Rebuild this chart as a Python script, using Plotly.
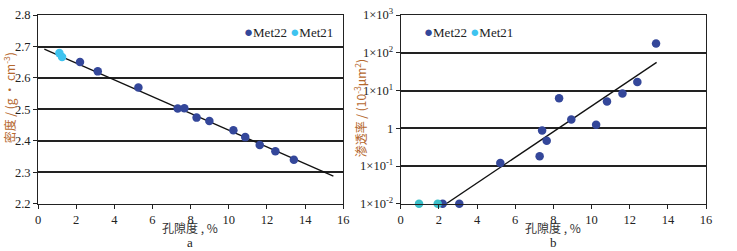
import plotly.graph_objects as go

# ---- data: panel a (density vs porosity) ----
a_met22_x = [2.2, 3.13, 5.26, 7.32, 7.67, 8.31, 8.98, 10.24, 10.86, 11.62, 12.44, 13.41]
a_met22_y = [2.651, 2.621, 2.570, 2.503, 2.504, 2.474, 2.463, 2.434, 2.412, 2.387, 2.367, 2.340]
a_met21_x = [1.12, 1.26]
a_met21_y = [2.679, 2.667]
a_fit_x = [0.33, 15.48]
a_fit_y = [2.692, 2.288]

# ---- data: panel b (permeability vs porosity) ----
b_met22_x = [2.2, 3.07, 5.22, 7.28, 7.41, 7.65, 8.30, 8.94, 10.24, 10.81, 11.62, 12.40, 13.38]
b_met22_y = [0.01, 0.01, 0.12, 0.183, 0.877, 0.47, 6.3, 1.72, 1.24, 5.15, 8.4, 16.8, 177]
b_met21_x = [0.96, 1.94]
b_met21_y = [0.01, 0.01]
b_fit_x = [2.38, 13.41]
b_fit_y = [0.01, 55.7]

x_ticks = [0, 2, 4, 6, 8, 10, 12, 14, 16]
a_y_ticks = [2.2, 2.3, 2.4, 2.5, 2.6, 2.7, 2.8]
b_y_ticks = [0.01, 0.1, 1, 10, 100, 1000]
b_y_ticktext = ["1×10<sup>-2</sup>", "1×10<sup>-1</sup>", "1", "1×10<sup>1</sup>",
                "1×10<sup>2</sup>", "1×10<sup>3</sup>"]

C22 = "#34479a"
C21 = "#3ec3ef"
TITLE_C = "#b5682e"
SERIF = "Liberation Serif, Times New Roman, serif"
CJK = "Noto Sans CJK SC"

fig = go.Figure()
mk = dict(size=8.5)
fig.add_trace(go.Scatter(x=a_fit_x, y=a_fit_y, mode="lines", line=dict(color="#111", width=1.3),
                         xaxis="x", yaxis="y", showlegend=False))
fig.add_trace(go.Scatter(x=a_met22_x, y=a_met22_y, mode="markers", marker=dict(color=C22, **mk),
                         xaxis="x", yaxis="y", showlegend=False, name="Met22"))
fig.add_trace(go.Scatter(x=a_met21_x, y=a_met21_y, mode="markers", marker=dict(color=C21, **mk),
                         xaxis="x", yaxis="y", showlegend=False, name="Met21"))
fig.add_trace(go.Scatter(x=b_fit_x, y=b_fit_y, mode="lines", line=dict(color="#111", width=1.3),
                         xaxis="x2", yaxis="y2", showlegend=False))
fig.add_trace(go.Scatter(x=b_met22_x, y=b_met22_y, mode="markers", marker=dict(color=C22, **mk),
                         xaxis="x2", yaxis="y2", showlegend=False, name="Met22", cliponaxis=False))
fig.add_trace(go.Scatter(x=b_met21_x, y=b_met21_y, mode="markers", marker=dict(color="#3bbfc9", **mk),
                         xaxis="x2", yaxis="y2", showlegend=False, name="Met21", cliponaxis=False))

ydom = [0.188, 0.940]
axcommon = dict(showline=True, linecolor="#222", linewidth=1, mirror=True, zeroline=False,
                ticks="outside", ticklen=4, tickcolor="#222", automargin=False,
                tickfont=dict(family=SERIF, size=12.5, color="#222"))
fig.update_layout(
    width=737, height=251, margin=dict(l=0, r=0, t=0, b=0),
    paper_bgcolor="white", plot_bgcolor="white",
    xaxis=dict(domain=[0.0516, 0.4658], range=[0, 16], tickvals=x_ticks, showgrid=False,
               anchor="y", **axcommon),
    yaxis=dict(domain=ydom, range=[2.2, 2.8], tickvals=a_y_ticks, tickformat=".1f",
               showgrid=True, gridcolor="#222", gridwidth=1.6, anchor="x", **axcommon),
    xaxis2=dict(domain=[0.5437, 0.958], range=[0, 16], tickvals=x_ticks, showgrid=False,
                anchor="y2", **axcommon),
    yaxis2=dict(domain=ydom, type="log", range=[-2, 3], tickvals=b_y_ticks, ticktext=b_y_ticktext,
                showgrid=True, gridcolor="#222", gridwidth=1.6, anchor="x2", **axcommon),
    showlegend=False,
)

legend_text = (f"<span style='color:{C22};font-size:15px'>●</span>Met22 "
               f"<span style='color:{C21};font-size:15px'>●</span>Met21")
common = dict(xref="paper", yref="paper", showarrow=False, xanchor="center", yanchor="middle")
fig.update_layout(annotations=[
    dict(text="孔隙度 , %", x=0.258, y=0.094, font=dict(family=CJK, size=12, color="#333"), **common),
    dict(text="a", x=0.258, y=0.032, font=dict(family=SERIF, size=13, color="#222"), **common),
    dict(text="孔隙度 , %", x=0.751, y=0.094, font=dict(family=CJK, size=12, color="#333"), **common),
    dict(text="b", x=0.751, y=0.032, font=dict(family=SERIF, size=13, color="#222"), **common),
    dict(text="密度 / (g · cm<sup>-3</sup>)", x=0.0115, y=0.61, textangle=-90,
         font=dict(family=CJK, size=12, color=TITLE_C), **common),
    dict(text="渗透率 / (10<sup>-3</sup>μm<sup>2</sup>)", x=0.489, y=0.57, textangle=-90,
         font=dict(family=CJK, size=12, color=TITLE_C), **common),
    dict(text=legend_text, x=0.455, y=0.8745, xref="paper", yref="paper", xanchor="right",
         yanchor="middle", showarrow=False, font=dict(family=SERIF, size=13, color="#222")),
    dict(text=legend_text, x=0.572, y=0.8745, xref="paper", yref="paper", xanchor="left",
         yanchor="middle", showarrow=False, font=dict(family=SERIF, size=13, color="#222")),
])

fig.write_html("out.html", config={"displayModeBar": False},
               post_script="document.body.style.margin='0px';")
